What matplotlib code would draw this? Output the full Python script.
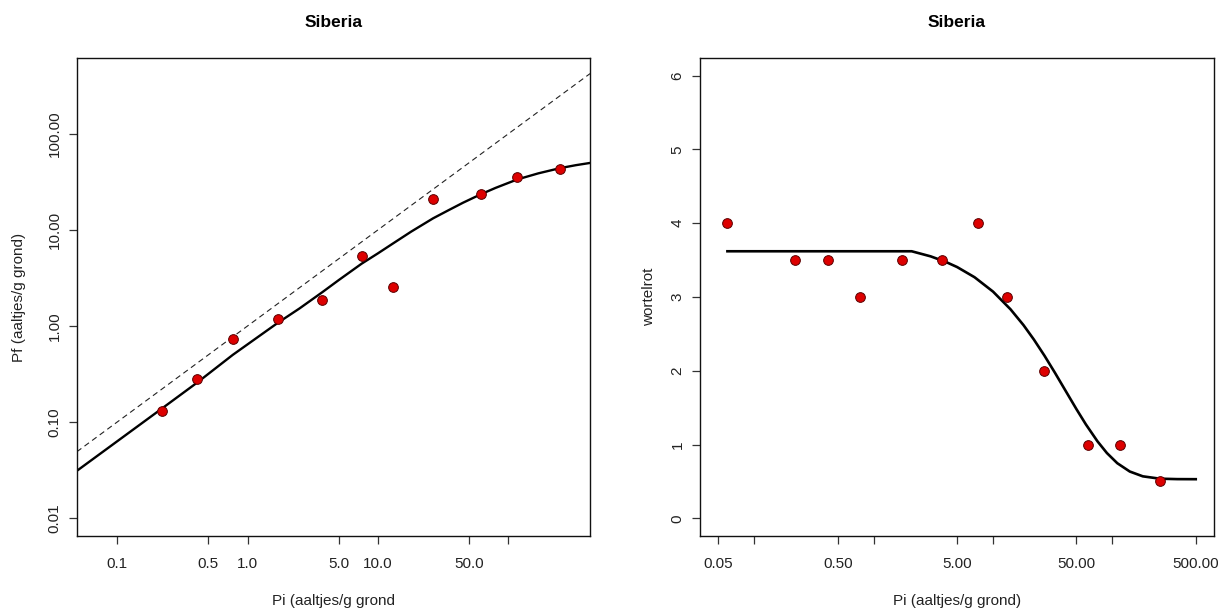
import numpy as np
import matplotlib
matplotlib.use("Agg")
import matplotlib.pyplot as plt

plt.rcParams['font.family'] = ['Liberation Sans', 'DejaVu Sans']

# Observed nematode densities (Pi) and final densities (Pf)
pi_left = [0.22, 0.41, 0.77, 1.71, 3.75, 7.5, 13.0, 26.5, 62.0, 117.0, 250.0]
pf_left = [0.129, 0.279, 0.737, 1.18, 1.85, 5.35, 2.56, 21.1, 23.6, 35.5, 43.1]

# Fitted population-dynamics curve
fit_pi_left = [0.049, 0.1, 0.22, 0.41, 0.77, 1.71, 2.5, 3.75, 5.0, 7.5, 10.0, 13.0,
               18.0, 26.5, 35.0, 45.0, 62.0, 80.0, 117.0, 170.0, 250.0, 330.0, 424.0]
fit_pf_left = [0.031, 0.063, 0.138, 0.257, 0.50, 1.08, 1.52, 2.25, 3.0, 4.45, 5.7, 7.2,
               9.6, 13.2, 16.1, 19.2, 23.6, 27.4, 33.5, 38.8, 44.0, 47.2, 49.8]

# Equilibrium line Pf = Pi
eq_pi = [0.049, 424.0]
eq_pf = [0.049, 424.0]

# Root rot scores against Pi
pi_right = [0.0594, 0.22, 0.41, 0.77, 1.71, 3.75, 7.5, 13.0, 26.5, 62.0, 117.0, 250.0]
rot_right = [4.0, 3.5, 3.5, 3.0, 3.5, 3.5, 4.0, 3.0, 2.0, 1.0, 1.0, 0.5]

# Fitted damage curve
fit_pi_right = [0.0594, 2.08, 3, 4, 5, 7, 10, 14, 18, 22, 27, 33, 40, 50, 60, 75, 90,
                110, 140, 180, 250, 350, 500]
fit_rot_right = [3.62, 3.62, 3.551, 3.477, 3.406, 3.268, 3.073, 2.834, 2.619, 2.423,
                 2.204, 1.974, 1.745, 1.480, 1.273, 1.044, 0.885, 0.747, 0.634, 0.569,
                 0.537, 0.531, 0.530]

left_xticks = [0.1, 0.5, 1.0, 5.0, 10.0, 50.0, 100.0]
left_xlabels = ["0.1", "0.5", "1.0", "5.0", "10.0", "50.0", ""]
left_yticks = [0.01, 0.1, 1.0, 10.0, 100.0]
left_ylabels = ["0.01", "0.10", "1.00", "10.00", "100.00"]

right_xticks = [0.05, 0.1, 0.5, 1, 5, 10, 50, 100, 500]
right_xlabels = ["0.05", "", "0.50", "", "5.00", "", "50.00", "", "500.00"]
right_yticks = [0, 1, 2, 3, 4, 5, 6]
right_ylabels = ["0", "1", "2", "3", "4", "5", "6"]

TXT = '#222222'

fig = plt.figure(figsize=(12.18, 6.09), dpi=100)
fig.patch.set_facecolor('white')

ax1 = fig.add_axes([77 / 1218, 1 - 536 / 609, 513 / 1218, 478 / 609])
ax2 = fig.add_axes([700 / 1218, 1 - 536 / 609, 514 / 1218, 478 / 609])


def style(ax):
    for s in ax.spines.values():
        s.set_color('#111111')
        s.set_linewidth(1.0)
    ax.tick_params(axis='both', which='major', direction='out', length=6,
                   width=0.9, color='#333333', labelsize=11, labelcolor=TXT)
    ax.tick_params(axis='x', pad=9)
    ax.tick_params(axis='y', pad=5)
    ax.minorticks_off()


# Left panel: Pf against Pi on log-log axes
ax1.set_xscale('log')
ax1.set_yscale('log')
ax1.plot(eq_pi, eq_pf, color='#222222', lw=0.8, dashes=(5, 3.5))
ax1.plot(fit_pi_left, fit_pf_left, color='black', lw=1.7)
ax1.plot(pi_left, pf_left, 'o', ms=7, mfc='#DD0000', mec='#5a0000', mew=0.7)
ax1.set_xlim(10 ** -1.309, 10 ** 2.627)
ax1.set_ylim(10 ** -2.1875, 10 ** 2.79)
ax1.set_xticks(left_xticks)
ax1.set_xticklabels(left_xlabels)
ax1.set_yticks(left_yticks)
ax1.set_yticklabels(left_ylabels)
style(ax1)
for lbl in ax1.get_yticklabels():
    lbl.set_rotation(90)
    lbl.set_va('center')
ax1.set_title("Siberia", fontsize=12.5, fontweight='bold', color='black', pad=22)
ax1.set_xlabel("Pi (aaltjes/g grond", fontsize=11, color=TXT, va='center')
ax1.xaxis.set_label_coords(0.5, -0.136)
ax1.set_ylabel("Pf (aaltjes/g grond)", fontsize=11, color=TXT, va='center')
ax1.yaxis.set_label_coords(-0.113, 0.5)

# Right panel: root rot against Pi on a log x axis
ax2.set_xscale('log')
ax2.plot(fit_pi_right, fit_rot_right, color='black', lw=1.9)
ax2.plot(pi_right, rot_right, 'o', ms=7, mfc='#DD0000', mec='#5a0000', mew=0.7)
ax2.set_xlim(10 ** -1.456, 10 ** 2.852)
ax2.set_ylim(-0.24, 6.24)
ax2.set_xticks(right_xticks)
ax2.set_xticklabels(right_xlabels)
ax2.set_yticks(right_yticks)
ax2.set_yticklabels(right_ylabels)
style(ax2)
for lbl in ax2.get_yticklabels():
    lbl.set_rotation(90)
    lbl.set_va('center')
ax2.set_title("Siberia", fontsize=12.5, fontweight='bold', color='black', pad=22)
ax2.set_xlabel("Pi (aaltjes/g grond)", fontsize=11, color=TXT, va='center')
ax2.xaxis.set_label_coords(0.5, -0.136)
ax2.set_ylabel("wortelrot", fontsize=11, color=TXT, va='center')
ax2.yaxis.set_label_coords(-0.1, 0.5)

fig.savefig("out.png", dpi=100, facecolor='white')
